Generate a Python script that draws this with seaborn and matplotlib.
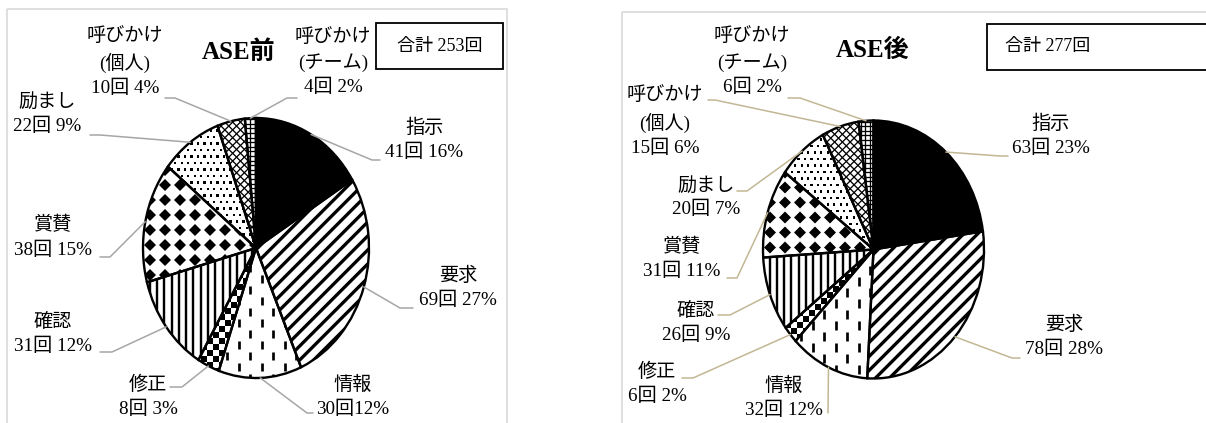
import numpy as np
import matplotlib
matplotlib.use("Agg")
import matplotlib.pyplot as plt
import seaborn as sns
from matplotlib.transforms import Affine2D
from matplotlib.collections import LineCollection, PolyCollection
from matplotlib.patches import Rectangle
from matplotlib.lines import Line2D

# ---------------- data ----------------
categories = ["指示", "要求", "情報", "修正", "確認", "賞賛", "励まし",
              "呼びかけ\n(個人)", "呼びかけ\n(チーム)"]
counts_before = [41, 69, 30, 8, 31, 38, 22, 10, 4]
pct_before = [16, 27, 12, 3, 12, 15, 9, 4, 2]
gap_before = [" ", " ", "", " ", " ", " ", " ", " ", " "]
counts_after = [63, 78, 32, 6, 26, 31, 20, 15, 6]
pct_after = [23, 28, 12, 2, 9, 11, 7, 6, 2]
gap_after = [" "] * 9
titles = ["ASE前", "ASE後"]
totals = [253, 277]

# ---------------- layout (reference pixels, origin top-left) ----------------
W, H = 1206, 423
sns.set_theme(style="white")
plt.rcParams["font.family"] = ["Liberation Serif", "Noto Sans CJK JP"]

fig = plt.figure(figsize=(W / 100, H / 100), dpi=100)
fig.patch.set_facecolor("white")
T = Affine2D().scale(1 / W, -1 / H).translate(0, 1) + fig.transFigure

panels = [
    dict(counts=counts_before, pct=pct_before, gap=gap_before,
         pie=(256, 248, 113, 130), frame=(7, 9, 500, 430),
         box=(376, 23, 127, 46), boxtext=(440, 46), title=(239, 52),
         line_color="#a6a6a6",
         labels=[(424, 139.5), (458, 287.5), (353, 396.5), (148, 396.5),
                 (53, 334), (53, 237.5), (47, 114), (125, 62), (333, 62)],
         leaders=[(372, 160, 380), (400, 308, 413), (307, 413, 313),
                  (182, 387, 170), (112, 352, 100), (110, 257, 100),
                  (100, 135, 90), (175, 98, 165), (287, 98, 297)]),
    dict(counts=counts_after, pct=pct_after, gap=gap_after,
         pie=(873.5, 249.5, 110.5, 129), frame=(622, 12, 600, 430),
         box=(987, 24, 240, 46), boxtext=(1048, 46), title=(873, 50),
         line_color="#c2b794",
         labels=[(1051, 136), (1064, 336.5), (784, 397.5), (657, 384),
                 (696, 322.5), (682, 259), (706, 197.5), (665, 121.5),
                 (752, 61.5)],
         leaders=[(1000, 156, 1008), (1012, 358, 1020), (828, 413, 828),
                  (693, 378, 682), (730, 315, 718), (737, 278, 727),
                  (747, 191, 737), (715, 100, 708), (800, 98, 788)]),
]

PT = 0.72  # points per pixel at dpi 100


def add_coll(ax, coll, wedge):
    coll.set_transform(T)
    ax.add_collection(coll, autolim=False)
    coll.set_clip_path(wedge)
    coll.set_zorder(2)


def bounds(p):
    cx, cy, rx, ry = p
    return cx - rx - 8, cx + rx + 8, cy - ry - 8, cy + ry + 8


def pat_diag(ax, w, p, spacing, lw, angle=45, both=False):
    x0, x1, y0, y1 = bounds(p)
    cx, cy = (x0 + x1) / 2, (y0 + y1) / 2
    L = max(x1 - x0, y1 - y0)
    angs = [angle, -angle] if both else [angle]
    segs = []
    for a in angs:
        r = np.deg2rad(a)
        d = np.array([np.cos(r), -np.sin(r)])
        n = np.array([np.sin(r), np.cos(r)])
        for k in np.arange(-L, L, spacing):
            c = np.array([cx, cy]) + n * k
            segs.append([c - d * L, c + d * L])
    add_coll(ax, LineCollection(segs, colors="black", linewidths=lw * PT,
                                capstyle="butt"), w)


def pat_vert(ax, w, p, spacing, lw):
    x0, x1, y0, y1 = bounds(p)
    segs = [[(x, y0), (x, y1)] for x in np.arange(x0, x1, spacing)]
    add_coll(ax, LineCollection(segs, colors="black", linewidths=lw * PT,
                                capstyle="butt"), w)


def pat_grid(ax, w, p, spacing, lw):
    x0, x1, y0, y1 = bounds(p)
    segs = [[(x, y0), (x, y1)] for x in np.arange(x0, x1, spacing)]
    segs += [[(x0, y), (x1, y)] for y in np.arange(y0, y1, spacing)]
    add_coll(ax, LineCollection(segs, colors="black", linewidths=lw * PT,
                                capstyle="butt"), w)


def pat_dash(ax, w, p, colsp, period, dash, lw):
    x0, x1, y0, y1 = bounds(p)
    segs = []
    for i, x in enumerate(np.arange(x0, x1, colsp)):
        off = (period / 2) * (i % 2)
        for y in np.arange(y0 - period + off, y1, period):
            segs.append([(x, y), (x, y + dash)])
    add_coll(ax, LineCollection(segs, colors="black", linewidths=lw * PT,
                                capstyle="butt"), w)


def pat_checker(ax, w, p, s):
    x0, x1, y0, y1 = bounds(p)
    polys = []
    for i, x in enumerate(np.arange(x0, x1, s)):
        for j, y in enumerate(np.arange(y0, y1, s)):
            if (i + j) % 2 == 0:
                polys.append([(x, y), (x + s, y), (x + s, y + s), (x, y + s)])
    add_coll(ax, PolyCollection(polys, facecolors="black", edgecolors="none"), w)


def pat_diamond(ax, w, p, s, size):
    x0, x1, y0, y1 = bounds(p)
    h = size / 2
    polys = []
    for x in np.arange(x0, x1, s):
        for y in np.arange(y0, y1, s):
            polys.append([(x, y - h), (x + h, y), (x, y + h), (x - h, y)])
    add_coll(ax, PolyCollection(polys, facecolors="black", edgecolors="none"), w)


def pat_dots(ax, w, p, s, d):
    x0, x1, y0, y1 = bounds(p)
    polys = []
    for j, y in enumerate(np.arange(y0, y1, s)):
        off = (s / 2) * (j % 2)
        for x in np.arange(x0 + off, x1, s):
            polys.append([(x, y), (x + d, y), (x + d, y + d), (x, y + d)])
    add_coll(ax, PolyCollection(polys, facecolors="black", edgecolors="none"), w)


LIM = 1.08
for k, P in enumerate(panels):
    cx, cy, rx, ry = P["pie"]
    # panel frame
    fx, fy, fw, fh = P["frame"]
    fig.add_artist(Rectangle((fx, fy), fw, fh, transform=T, fill=False,
                             edgecolor="#d9d9d9", linewidth=1.2))
    ax = fig.add_axes([(cx - rx * LIM) / W, (H - cy - ry * LIM) / H,
                       2 * rx * LIM / W, 2 * ry * LIM / H])
    counts = P["counts"]
    wedges, _ = ax.pie(counts, startangle=90, counterclock=False, radius=1,
                       colors=["white"] * len(counts),
                       wedgeprops=dict(edgecolor="none", linewidth=0))
    outl, _ = ax.pie(counts, startangle=90, counterclock=False, radius=1,
                     wedgeprops=dict(fill=False, edgecolor="black",
                                     linewidth=1.7))
    for o in outl:
        o.set_zorder(3)
    ax.set_aspect("auto")
    ax.set_xlim(-LIM, LIM)
    ax.set_ylim(-LIM, LIM)
    ax.axis("off")

    p = P["pie"]
    wedges[0].set_facecolor("black")
    pat_diag(ax, wedges[1], p, 9.9, 3.3, angle=45)
    pat_dash(ax, wedges[2], p, 11.5, 22, 8.5, 2.7)
    pat_checker(ax, wedges[3], p, 6)
    pat_vert(ax, wedges[4], p, 7.3, 2.4)
    pat_diamond(ax, wedges[5], p, 15, 12)
    pat_dots(ax, wedges[6], p, 6.5, 2.3)
    pat_diag(ax, wedges[7], p, 5.5, 1.3, angle=45, both=True)
    pat_grid(ax, wedges[8], p, 4.6, 1.3)

    # labels and leader lines
    for i, wd in enumerate(wedges):
        mid = np.deg2rad((wd.theta1 + wd.theta2) / 2)
        dx, dy = ax.transData.transform((np.cos(mid), np.sin(mid)))
        ax_x, ax_y = dx, H - dy
        ex, ey, endx = P["leaders"][i]
        fig.add_artist(Line2D([ax_x, ex, endx], [ax_y, ey, ey], transform=T,
                              color=P["line_color"], linewidth=1.1, zorder=1))
        lx, ly = P["labels"][i]
        txt = f"{categories[i]}\n{counts[i]}回{P['gap'][i]}{P['pct'][i]}%"
        fig.text(lx, ly, txt, transform=T, ha="center", va="center",
                 fontsize=13.8, linespacing=1.5, color="black",
                 multialignment="center")

    # title
    tx, ty = P["title"]
    fig.text(tx, ty, titles[k], transform=T, ha="center", va="center",
             fontsize=18, fontweight="bold", color="black")
    # total box
    bx, by, bw, bh = P["box"]
    fig.add_artist(Rectangle((bx, by), bw, bh, transform=T, fill=True,
                             facecolor="white", edgecolor="black",
                             linewidth=1.3))
    btx, bty = P["boxtext"]
    fig.text(btx, bty, f"合計 {totals[k]}回", transform=T, ha="center",
             va="center", fontsize=13, color="black")

fig.savefig("out.png", dpi=100, facecolor="white")
